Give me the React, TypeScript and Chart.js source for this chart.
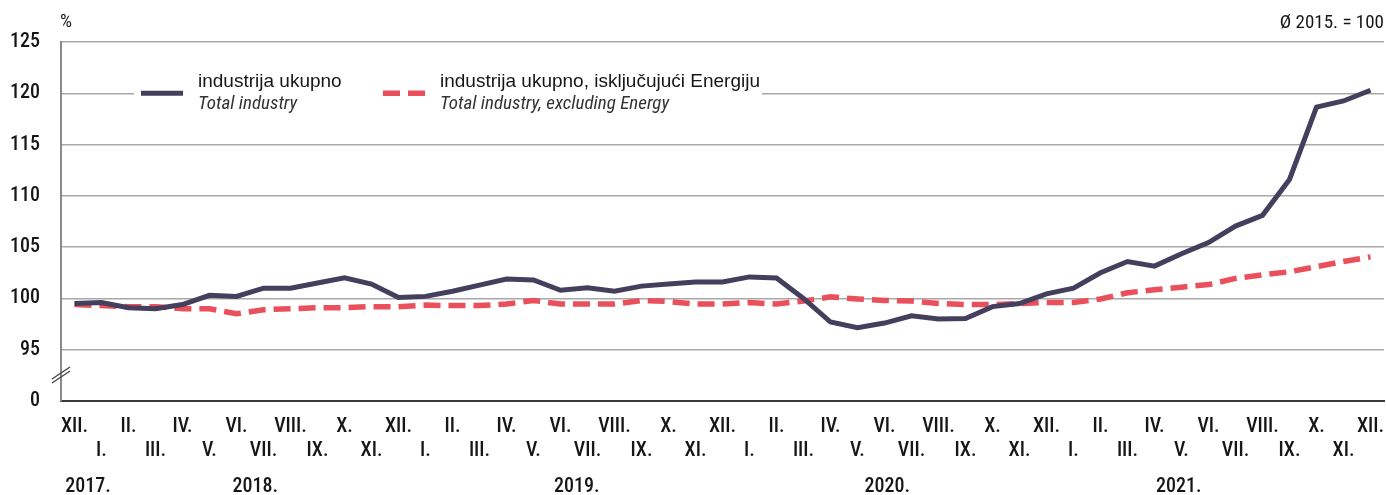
import React, { useEffect, useRef } from "react";
import { Chart, registerables } from "chart.js";

Chart.register(...registerables);

const monthLabels = [
  "XII.",
  "I.", "II.", "III.", "IV.", "V.", "VI.", "VII.", "VIII.", "IX.", "X.", "XI.", "XII.",
  "I.", "II.", "III.", "IV.", "V.", "VI.", "VII.", "VIII.", "IX.", "X.", "XI.", "XII.",
  "I.", "II.", "III.", "IV.", "V.", "VI.", "VII.", "VIII.", "IX.", "X.", "XI.", "XII.",
  "I.", "II.", "III.", "IV.", "V.", "VI.", "VII.", "VIII.", "IX.", "X.", "XI.", "XII.",
];

const totalIndustry = [
  99.5,
  99.6, 99.1, 99.0, 99.4, 100.3, 100.2, 101.0, 101.0, 101.5, 102.0, 101.4, 100.1,
  100.2, 100.7, 101.3, 101.9, 101.8, 100.8, 101.05, 100.7, 101.2, 101.4, 101.6, 101.6,
  102.1, 102.0, 100.0, 97.7, 97.15, 97.6, 98.3, 98.0, 98.05, 99.2, 99.5, 100.45,
  101.0, 102.5, 103.6, 103.15, 104.35, 105.45, 107.05, 108.1, 111.6, 118.65, 119.25, 120.3,
];

const excludingEnergy = [
  99.4,
  99.3, 99.2, 99.2, 99.0, 99.0, 98.5, 98.9, 99.0, 99.1, 99.1, 99.2, 99.2,
  99.35, 99.3, 99.3, 99.45, 99.8, 99.45, 99.45, 99.45, 99.8, 99.7, 99.45, 99.45,
  99.6, 99.45, 99.75, 100.15, 99.95, 99.8, 99.75, 99.5, 99.4, 99.4, 99.5, 99.6,
  99.6, 99.95, 100.55, 100.85, 101.1, 101.35, 101.95, 102.3, 102.6, 103.1, 103.6, 104.05,
];

const yearLabels = ["2017.", "2018.", "2019.", "2020.", "2021."];
// category positions (index units) where the year captions sit
const yearAnchors = [0.5, 6.7, 18.6, 30.1, 40.9];

const seriesNamesHr = ["industrija ukupno", "industrija ukupno, isključujući Energiju"];
const seriesNamesEn = ["Total industry", "Total industry, excluding Energy"];

const yMin = 90; // drawn as "0" after the axis break
const yMax = 125;
const yStep = 5;

const COND = '"Roboto Condensed", "DejaVu Sans Condensed", sans-serif';
const REG = '"Liberation Sans", Arial, sans-serif';
const BLUE = "#433f5d";
const RED = "#e9505c";
const TEXT = "#161616";

export default function App() {
  const ref = useRef<HTMLCanvasElement | null>(null);

  useEffect(() => {
    document.body.style.margin = "0";
    const canvas = ref.current;
    if (!canvas) return;

    const decor = {
      id: "decor",
      afterDraw(chart: any) {
        const ctx = chart.ctx as CanvasRenderingContext2D;
        const a = chart.chartArea;
        const x = chart.scales.x;
        ctx.save();

        // axis break marks
        ctx.strokeStyle = "#444";
        ctx.lineWidth = 1.3;
        ctx.beginPath();
        ctx.moveTo(a.left - 9, a.bottom - 22);
        ctx.lineTo(a.left + 9, a.bottom - 34);
        ctx.moveTo(a.left - 9, a.bottom - 18);
        ctx.lineTo(a.left + 9, a.bottom - 30);
        ctx.stroke();

        // legend box
        const ly = chart.scales.y.getPixelForValue(120);
        ctx.fillStyle = "#fff";
        ctx.fillRect(a.left + 73, ly - 26, 628, 50);

        ctx.lineWidth = 5;
        ctx.strokeStyle = BLUE;
        ctx.setLineDash([]);
        ctx.beginPath();
        ctx.moveTo(a.left + 80, ly);
        ctx.lineTo(a.left + 122, ly);
        ctx.stroke();

        ctx.lineWidth = 5.5;
        ctx.strokeStyle = RED;
        ctx.setLineDash([17, 8]);
        ctx.beginPath();
        ctx.moveTo(a.left + 322, ly);
        ctx.lineTo(a.left + 365, ly);
        ctx.stroke();
        ctx.setLineDash([]);

        ctx.fillStyle = TEXT;
        ctx.textAlign = "left";
        ctx.textBaseline = "middle";
        ctx.font = `19px ${REG}`;
        ctx.fillText(seriesNamesHr[0], a.left + 137, ly - 12);
        ctx.fillText(seriesNamesHr[1], a.left + 379, ly - 12);
        ctx.fillStyle = "#333";
        ctx.font = `italic 19px ${COND}`;
        ctx.fillText(seriesNamesEn[0], a.left + 137, ly + 11);
        ctx.fillText(seriesNamesEn[1], a.left + 379, ly + 11);

        // unit and base
        ctx.fillStyle = TEXT;
        ctx.font = `19px ${COND}`;
        ctx.textAlign = "left";
        ctx.fillText("%", a.left - 1, 22);
        ctx.textAlign = "right";
        ctx.fillText("Ø 2015. = 100", a.right, 23);

        // year captions
        ctx.textAlign = "center";
        ctx.font = `500 20px ${COND}`;
        yearLabels.forEach((lab, i) => {
          ctx.fillText(lab, x.getPixelForValue(yearAnchors[i]), a.bottom + 86);
        });
        ctx.restore();
      },
    };

    const chart = new Chart(canvas, {
      type: "line",
      data: {
        labels: monthLabels.map((m, i) => (i % 2 === 0 ? [m] : ["", m])),
        datasets: [
          {
            label: seriesNamesEn[0],
            data: totalIndustry,
            borderColor: BLUE,
            borderWidth: 5,
            pointRadius: 0,
            tension: 0,
            borderJoinStyle: "miter",
            order: 0,
          },
          {
            label: seriesNamesEn[1],
            data: excludingEnergy,
            borderColor: RED,
            borderWidth: 5.5,
            borderDash: [17, 8],
            pointRadius: 0,
            tension: 0,
            order: 1,
          },
        ],
      },
      options: {
        animation: false,
        responsive: true,
        maintainAspectRatio: false,
        layout: { padding: { top: 42, right: 2, left: 0, bottom: 0 } },
        plugins: {
          legend: { display: false },
          tooltip: { enabled: false },
          title: { display: false },
        },
        scales: {
          x: {
            offset: true,
            grid: { display: false, drawTicks: false },
            border: { display: true, color: "#3a3a3a", width: 2 },
            ticks: {
              autoSkip: false,
              maxRotation: 0,
              minRotation: 0,
              padding: 14,
              color: TEXT,
              font: { family: COND, size: 20, weight: "500", lineHeight: 1.2 },
            },
            afterFit: (s: any) => {
              s.height = 94;
              s.paddingLeft = 0;
              s.paddingRight = 0;
            },
          },
          y: {
            min: yMin,
            max: yMax,
            grid: {
              drawTicks: false,
              color: (c: any) => (c.tick && c.tick.value === yMin ? "rgba(0,0,0,0)" : "#a8a8a8"),
              lineWidth: 1.5,
            },
            border: { display: true, color: "#8a8a8a", width: 2 },
            ticks: {
              stepSize: yStep,
              padding: 21,
              color: TEXT,
              font: { family: COND, size: 20, weight: "500" },
              callback: (v: any) => (v === yMin ? "0" : String(v)),
            },
            afterFit: (s: any) => {
              s.width = 61;
              s.paddingTop = 0;
              s.paddingBottom = 0;
            },
          },
        },
      },
      plugins: [decor],
    });

    return () => chart.destroy();
  }, []);

  return (
    <div style={{ width: 1386, height: 495, position: "relative" }}>
      <canvas ref={ref} />
    </div>
  );
}
